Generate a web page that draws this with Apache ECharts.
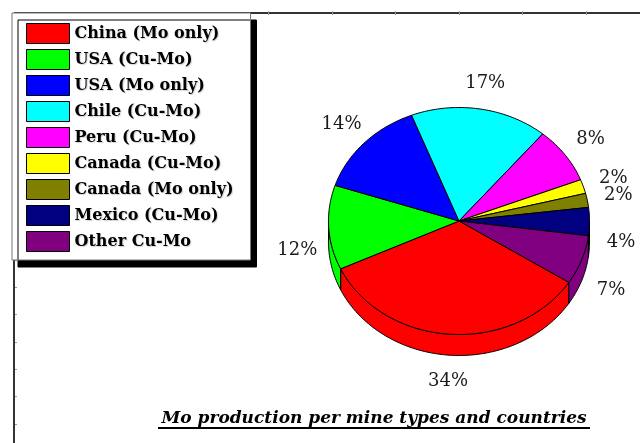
<!DOCTYPE html>
<html>
<head>
<meta charset="utf-8">
<script src="https://cdn.jsdelivr.net/npm/echarts@6/dist/echarts.min.js"></script>
<style>
  html, body { margin: 0; padding: 0; background: #fff; }
  #chart { width: 640px; height: 443px; }
</style>
</head>
<body>
<div id="chart"></div>
<script>
// Molybdenum output by mine type and country (share of total, %)
const categories = [
  'China (Mo only)', 'USA (Cu-Mo)', 'USA (Mo only)', 'Chile (Cu-Mo)', 'Peru (Cu-Mo)',
  'Canada (Cu-Mo)', 'Canada (Mo only)', 'Mexico (Cu-Mo)', 'Other Cu-Mo'
];
const shares = [34, 12, 14, 17, 8, 2, 2, 4, 7];
const sliceColors = [
  '#ff0000', '#00ff00', '#0000ff', '#00ffff', '#ff00ff',
  '#ffff00', '#808000', '#000080', '#800080'
];
const titleText = 'Mo production per mine types and countries';

const FONT = '"DejaVu Serif", "Liberation Serif", serif';

// Tilted pie geometry (ellipse top face with a visible front wall)
const PIE = { cx: 459, cy: 221, rx: 130.5, ry: 113.5, depth: 21, startDeg: 32.7, labelRx: 162, labelRy: 140 };
const total = shares.reduce((a, b) => a + b, 0);

function rimPoint(deg, dy) {
  const r = deg * Math.PI / 180;
  return [PIE.cx + PIE.rx * Math.cos(r), PIE.cy + PIE.ry * Math.sin(r) + dy];
}
function arcPoints(a, b, dy) {
  const n = Math.max(2, Math.ceil(Math.abs(b - a)) + 1);
  const pts = [];
  for (let k = 0; k < n; k++) pts.push(rimPoint(a + (b - a) * k / (n - 1), dy));
  return pts;
}

function sliceRenderer(index) {
  return function (params, api) {
    const value = api.value(0);
    let a1 = PIE.startDeg;
    for (let j = 0; j < index; j++) a1 += shares[j] / total * 360;
    const a2 = a1 + value / total * 360;
    const color = api.visual('color');
    const children = [];
    // front wall: only the part of the rim on the near (lower) half shows
    [0, 360].forEach(function (base) {
      const lo = Math.max(a1, base), hi = Math.min(a2, base + 180);
      if (hi > lo) {
        const top = arcPoints(lo, hi, 0);
        const bottom = arcPoints(lo, hi, PIE.depth).reverse();
        children.push({
          type: 'polygon', z2: 1,
          shape: { points: top.concat(bottom) },
          style: { fill: color, stroke: '#000', lineWidth: 1, lineJoin: 'round' }
        });
      }
    });
    // top face
    children.push({
      type: 'polygon', z2: 5,
      shape: { points: [[PIE.cx, PIE.cy]].concat(arcPoints(a1, a2, 0)) },
      style: { fill: color, stroke: '#000', lineWidth: 1, lineJoin: 'round' }
    });
    // percentage label
    const mid = (a1 + a2) / 2 * Math.PI / 180;
    const s = Math.sin(mid);
    children.push({
      type: 'text', z2: 10,
      x: PIE.cx + PIE.labelRx * Math.cos(mid),
      y: PIE.cy + PIE.labelRy * s + (s > -0.1 ? PIE.depth : 0),
      style: {
        text: Math.round(value / total * 100) + '%',
        fill: '#1a1a1a', font: '18px ' + FONT,
        align: 'center', verticalAlign: 'middle'
      }
    });
    return { type: 'group', children: children };
  };
}

const series = categories.map(function (name, i) {
  return {
    type: 'custom',
    name: name,
    coordinateSystem: 'none',
    itemStyle: { color: sliceColors[i] },
    data: [[shares[i]]],
    renderItem: sliceRenderer(i),
    silent: true
  };
});

// frame lines with small tick marks
const frame = [
  { type: 'line', shape: { x1: 14, y1: 13, x2: 14, y2: 443 }, style: { stroke: '#333', lineWidth: 2 } },
  { type: 'line', shape: { x1: 14, y1: 13, x2: 640, y2: 13 }, style: { stroke: '#333', lineWidth: 2 } }
];
for (let y = 287 - 27.3 * 10; y < 443; y += 27.3) {
  frame.push({ type: 'line', shape: { x1: 15, y1: Math.round(y) + 0.5, x2: 17, y2: Math.round(y) + 0.5 }, style: { stroke: '#999', lineWidth: 1 } });
}
for (let x = 268; x < 640; x += 63.6) {
  frame.push({ type: 'line', shape: { x1: Math.round(x) + 0.5, y1: 11, x2: Math.round(x) + 0.5, y2: 15 }, style: { stroke: '#999', lineWidth: 1 } });
}

const chart = echarts.init(document.getElementById('chart'), null, { renderer: 'canvas' });
chart.setOption({
  animation: false,
  backgroundColor: '#fff',
  legend: {
    left: 12, top: 13,
    orient: 'vertical',
    padding: [10, 17, 8, 14],
    itemWidth: 43, itemHeight: 20, itemGap: 5,
    icon: 'rect',
    selectedMode: false,
    backgroundColor: '#fff',
    borderColor: '#777', borderWidth: 1,
    shadowColor: '#000', shadowBlur: 0, shadowOffsetX: 6, shadowOffsetY: 7,
    itemStyle: { borderColor: '#000', borderWidth: 1 },
    textStyle: {
      fontFamily: FONT, fontWeight: 'bold', fontSize: 16, color: '#000',
      lineHeight: 20, padding: 0,
      textShadowColor: 'rgba(0,0,0,0.18)', textShadowOffsetX: 1, textShadowOffsetY: 1, textShadowBlur: 1
    },
    data: categories
  },
  graphic: frame.concat([
    {
      type: 'text', x: 374, y: 419,
      style: {
        text: titleText, font: 'italic bold 17px ' + FONT, fill: '#000',
        align: 'center', verticalAlign: 'middle',
        shadowColor: 'rgba(0,0,0,0.2)', shadowOffsetX: 1, shadowOffsetY: 1, shadowBlur: 1
      }
    },
    { type: 'line', shape: { x1: 158, y1: 428, x2: 590, y2: 428 }, style: { stroke: '#000', lineWidth: 2 } }
  ]),
  series: series
});
</script>
</body>
</html>
